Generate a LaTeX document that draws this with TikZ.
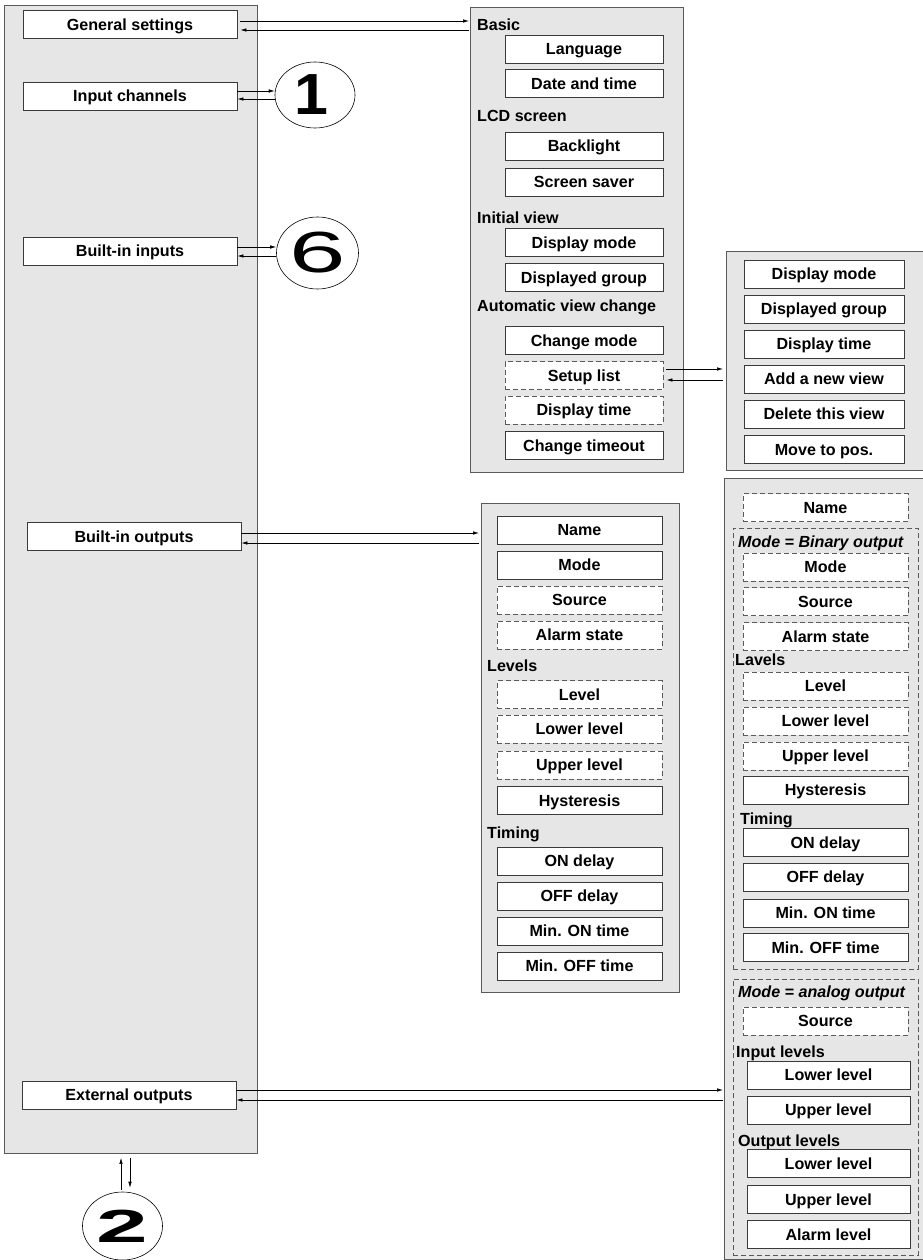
\documentclass[tikz,border=0pt]{standalone}
\usepackage{fontspec}
\usepackage{graphicx}
\setmainfont{Liberation Sans}
\usetikzlibrary{shapes.geometric,arrows.meta}
\definecolor{panelfill}{HTML}{E6E6E6}
\definecolor{panelline}{HTML}{5A5A5A}
\definecolor{boxline}{HTML}{3A3A3A}
\newcommand\myfont{\fontsize{16.1}{18}\selectfont\bfseries}
\newcommand\digitfont{\fontsize{58}{58}\selectfont}
\tikzset{
 panel/.style={draw=panelline, fill=panelfill, line width=0.9pt, rectangle, anchor=north west, inner sep=0pt},
 item/.style={draw=boxline, fill=white, line width=0.9pt, rectangle, minimum height=28pt, inner sep=0pt, text height=11.5pt, text depth=0pt, font=\myfont},
 ditem/.style={item, draw=panelline, dash pattern=on 5pt off 3pt},
 grp/.style={draw=panelline, dash pattern=on 5pt off 3pt, line width=0.9pt, rectangle, anchor=north west, inner sep=0pt},
 hdr/.style={anchor=west, inner sep=0pt, text height=11.5pt, text depth=0pt, font=\myfont},
 arr/.style={-{Latex[length=6pt,width=3.5pt]}, line width=0.6pt, black},
 circ/.style={draw, ellipse, line width=0.6pt, inner sep=0pt},
}
\begin{document}
\begin{tikzpicture}[x=1pt,y=-1pt]
\useasboundingbox (0,0) rectangle (922,1260);
% left panel
\node[panel, minimum width=253pt, minimum height=1148pt] (lp) at (4,5) {};
\node[item, minimum width=214pt] (gs) at (130,24.5) {General settings};
\node[item, minimum width=214pt] (ic) at (130,96) {Input channels};
\node[item, minimum width=214pt] (bi) at (130,251) {Built-in inputs};
\node[item, minimum width=214pt] (bo) at (134,536.5) {Built-in outputs};
\node[item, minimum width=214pt] (eo) at (129,1095) {External outputs};
% circles
\node[circ, minimum width=80pt, minimum height=66pt] (c1) at (315,95) {\digitfont\bfseries\hspace*{-8pt}\scalebox{1.05}[1]{1}};
\node[circ, minimum width=82pt, minimum height=72pt] (c6) at (317.5,253) {\digitfont\raisebox{-4pt}{\scalebox{1.75}[1]{6}}};
\node[circ, minimum width=80pt, minimum height=68pt] (c2) at (122.5,1226) {\digitfont\bfseries\raisebox{-2pt}{\scalebox{1.6}[0.8]{2}}};
% general settings panel
\node[panel, minimum width=213pt, minimum height=465pt] (pA) at (470,7) {};
\node[hdr] (hBasic) at (477,24.3) {Basic};
\node[item, minimum width=158pt] (lang) at (584,49) {Language};
\node[item, minimum width=158pt] (dt) at (584,83.5) {Date and time};
\node[hdr] (hLCD) at (477,115.3) {LCD screen};
\node[item, minimum width=158pt] (bl) at (584,146) {Backlight};
\node[item, minimum width=158pt] (ss) at (584,182) {Screen saver};
\node[hdr] (hInit) at (477,218) {Initial view};
\node[item, minimum width=158pt] (dm) at (584,242.5) {Display mode};
\node[item, minimum width=158pt] (dg) at (584,277.5) {Displayed group};
\node[hdr] (hAuto) at (477,306) {Automatic view change};
\node[item, minimum width=158pt] (cm) at (584,340.5) {Change mode};
\node[ditem, minimum width=158pt] (sl) at (584,375.5) {Setup list};
\node[ditem, minimum width=158pt] (dtm) at (584,410) {Display time};
\node[item, minimum width=158pt] (ct) at (584,445.5) {Change timeout};
% view list panel
\node[panel, minimum width=200pt, minimum height=219pt] (pV) at (726,251) {};
\node[item, minimum width=160pt] (v1) at (824,274) {Display mode};
\node[item, minimum width=160pt] (v2) at (824,309) {Displayed group};
\node[item, minimum width=160pt] (v3) at (824,344) {Display time};
\node[item, minimum width=160pt] (v4) at (824,379) {Add a new view};
\node[item, minimum width=160pt] (v5) at (824,414) {Delete this view};
\node[item, minimum width=160pt] (v6) at (824,449.5) {Move to pos.};
% built-in outputs panel
\node[panel, minimum width=198pt, minimum height=489pt] (pB) at (481,503) {};
\node[item, minimum width=165pt] (b1) at (579.5,530) {Name};
\node[item, minimum width=165pt] (b2) at (579.5,565) {Mode};
\node[ditem, minimum width=165pt] (b3) at (579.5,600) {Source};
\node[ditem, minimum width=165pt] (b4) at (579.5,635) {Alarm state};
\node[hdr] (hLev) at (487,665.5) {Levels};
\node[ditem, minimum width=165pt] (b5) at (579.5,694.5) {Level};
\node[ditem, minimum width=165pt] (b6) at (579.5,729) {Lower level};
\node[ditem, minimum width=165pt] (b7) at (579.5,765) {Upper level};
\node[item, minimum width=165pt] (b8) at (579.5,800.5) {Hysteresis};
\node[hdr] (hTim) at (487,832.5) {Timing};
\node[item, minimum width=165pt] (b9) at (579.5,861) {ON delay};
\node[item, minimum width=165pt] (b10) at (579.5,896) {OFF delay};
\node[item, minimum width=165pt] (b11) at (579.5,931) {Min. ON time};
\node[item, minimum width=165pt] (b12) at (579.5,966) {Min. OFF time};
% external outputs panel
\node[panel, minimum width=200pt, minimum height=781pt] (pE) at (724,478) {};
\node[ditem, minimum width=165pt] (e0) at (825.5,507.5) {Name};
\node[grp, minimum width=185pt, minimum height=441pt] (g1) at (733,528) {};
\node[hdr] (hBin) at (738,541.5) {\itshape Mode = Binary output};
\node[ditem, minimum width=165pt] (e1) at (825.5,567) {Mode};
\node[ditem, minimum width=165pt] (e2) at (825.5,601.5) {Source};
\node[ditem, minimum width=165pt] (e3) at (825.5,636.5) {Alarm state};
\node[hdr] (hLav) at (735,660) {Lavels};
\node[ditem, minimum width=165pt] (e4) at (825.5,686) {Level};
\node[ditem, minimum width=165pt] (e5) at (825.5,721) {Lower level};
\node[ditem, minimum width=165pt] (e6) at (825.5,756) {Upper level};
\node[item, minimum width=165pt] (e7) at (825.5,790) {Hysteresis};
\node[hdr] (hTim2) at (740,819) {Timing};
\node[item, minimum width=165pt] (e8) at (825.5,842.5) {ON delay};
\node[item, minimum width=165pt] (e9) at (825.5,877) {OFF delay};
\node[item, minimum width=165pt] (e10) at (825.5,913) {Min. ON time};
\node[item, minimum width=165pt] (e11) at (825.5,947.5) {Min. OFF time};
\node[grp, minimum width=185pt, minimum height=276pt] (g2) at (733,979) {};
\node[hdr] (hAna) at (738,991.5) {\itshape Mode = analog output};
\node[ditem, minimum width=165pt] (a1) at (825.5,1021) {Source};
\node[hdr] (hIn) at (736,1051.5) {Input levels};
\node[item, minimum width=163pt] (a2) at (828.5,1075) {Lower level};
\node[item, minimum width=163pt] (a3) at (828.5,1110) {Upper level};
\node[hdr] (hOut) at (738,1140.5) {Output levels};
\node[item, minimum width=163pt] (a4) at (828.5,1163.5) {Lower level};
\node[item, minimum width=163pt] (a5) at (828.5,1199.5) {Upper level};
\node[item, minimum width=163pt] (a6) at (828.5,1234.5) {Alarm level};
% connectors
\draw[arr] ([xshift=3pt,yshift=3.5pt]gs.east) -- ([xshift=-1pt,yshift=3.5pt]gs.east -| pA.west);
\draw[arr] ([xshift=-1pt,yshift=-5.5pt]gs.east -| pA.west) -- ([xshift=3pt,yshift=-5.5pt]gs.east);
\draw[arr] ([yshift=5pt]ic.east) -- ([yshift=5pt]ic.east -| c1.west);
\draw[arr] ([yshift=-3pt]ic.east -| c1.west) -- ([yshift=-3pt]ic.east);
\draw[arr] ([yshift=4pt]bi.east) -- ([yshift=4pt]bi.east -| c6.west);
\draw[arr] ([yshift=-5pt]bi.east -| c6.west) -- ([yshift=-5pt]bi.east);
\draw[arr] ([yshift=3.5pt]bo.east) -- ([xshift=-2pt,yshift=3.5pt]bo.east -| pB.west);
\draw[arr] ([xshift=-2pt,yshift=-6.5pt]bo.east -| pB.west) -- ([yshift=-6.5pt]bo.east);
\draw[arr] ([yshift=5pt]eo.east) -- ([xshift=-1pt,yshift=5pt]eo.east -| pE.west);
\draw[arr] ([xshift=-1pt,yshift=-5pt]eo.east -| pE.west) -- ([yshift=-5pt]eo.east);
\draw[arr] ([xshift=3pt,yshift=6.5pt]sl.east) -- ([xshift=-3pt,yshift=6.5pt]sl.east -| pV.west);
\draw[arr] ([xshift=-3pt,yshift=-4.5pt]sl.east -| pV.west) -- ([xshift=3pt,yshift=-4.5pt]sl.east);
\draw[arr] ([xshift=-1.5pt,yshift=2pt]c2.north) -- ([xshift=-1.5pt,yshift=-4pt]c2.north |- lp.south);
\draw[arr] ([xshift=7.5pt,yshift=-4pt]c2.north |- lp.south) -- ([xshift=7.5pt,yshift=4pt]c2.north);
\end{tikzpicture}
\end{document}
